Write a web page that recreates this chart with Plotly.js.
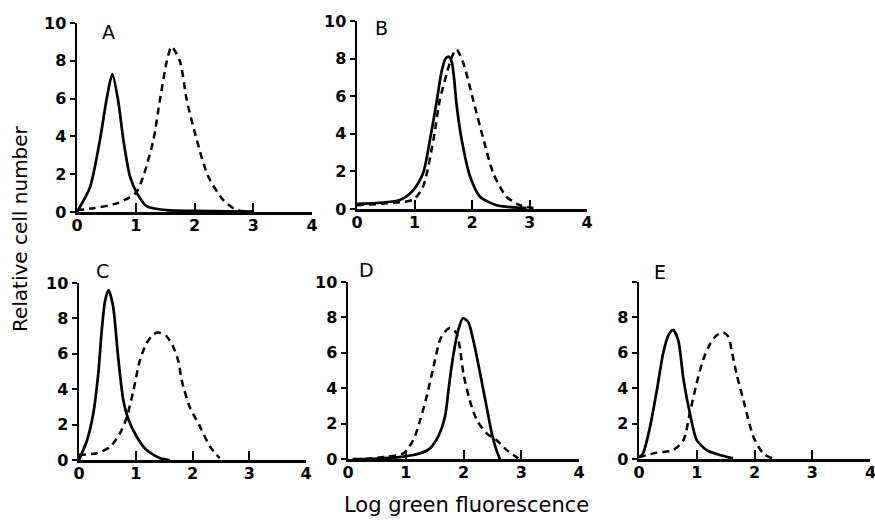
<!DOCTYPE html>
<html>
<head>
<meta charset="utf-8">
<script src="https://cdn.plot.ly/plotly-3.0.1.min.js"></script>
<style>html,body{margin:0;padding:0;background:#fff;}#chart{width:875px;height:522px;}</style>
</head>
<body>
<div id="chart"></div>
<script>
// Panel letters
const panelNames = ['A', 'B', 'C', 'D', 'E'];
const xTickVals = [0, 1, 2, 3, 4];
const xTickText = ['0', '1', '2', '3', '4'];
const xTickTextE = ['0', '1', '2', '3', ''];
const yTickVals = [0, 2, 4, 6, 8, 10];
const yTickText = ['0', '2', '4', '6', '8', '10'];
const yTickTextE = ['0', '2', '4', '6', '8', ''];

// Panel A
const aSolidX = [0, 0.22, 0.39, 0.5, 0.6, 0.7, 0.79, 0.9, 1.02, 1.19, 1.53, 2.0, 2.6, 3.0];
const aSolidY = [0, 1.3, 3.8, 5.9, 7.3, 5.9, 3.8, 1.9, 1.0, 0.3, 0.1, 0.06, 0.03, 0.02];
const aDashX = [0, 0.28, 0.68, 1.0, 1.13, 1.3, 1.41, 1.53, 1.61, 1.75, 1.87, 2.04, 2.23, 2.49, 2.72, 3.0];
const aDashY = [0.1, 0.2, 0.46, 1.0, 1.9, 3.8, 5.9, 8.0, 8.75, 8.0, 5.9, 3.8, 1.9, 0.63, 0.1, 0.02];

// Panel B
const bSolidX = [0, 0.75, 0.98, 1.15, 1.27, 1.39, 1.47, 1.54, 1.6, 1.65, 1.69, 1.73, 1.82, 1.97, 2.14, 2.43, 2.95];
const bSolidY = [0.27, 0.48, 1.0, 1.9, 3.7, 5.8, 7.3, 8.0, 8.1, 7.8, 6.9, 5.6, 3.7, 1.7, 0.65, 0.2, 0.05];
const bDashX = [0, 0.52, 0.98, 1.15, 1.33, 1.44, 1.56, 1.65, 1.73, 1.85, 2.02, 2.2, 2.37, 2.6, 2.83, 3.07];
const bDashY = [0.2, 0.3, 0.5, 1.2, 3.7, 5.8, 7.2, 8.1, 8.5, 7.75, 5.8, 3.7, 1.9, 0.65, 0.2, 0.05];

// Panel C
const cSolidX = [0, 0.14, 0.25, 0.34, 0.4, 0.46, 0.52, 0.6, 0.69, 0.78, 0.87, 1.02, 1.19, 1.43, 1.6];
const cSolidY = [0, 1.1, 2.6, 4.9, 7.3, 9.0, 9.6, 8.7, 5.8, 3.4, 2.3, 1.3, 0.56, 0.1, 0];
const cDashX = [0, 0.31, 0.55, 0.72, 0.84, 0.96, 1.07, 1.19, 1.31, 1.4, 1.54, 1.66, 1.75, 1.81, 1.95, 2.13, 2.31, 2.48];
const cDashY = [0.3, 0.38, 0.75, 1.5, 2.4, 3.95, 5.6, 6.6, 7.1, 7.2, 7.0, 6.4, 5.6, 4.5, 3.0, 1.9, 0.75, 0.1];

// Panel D
const dSolidX = [0.08, 0.38, 0.96, 1.25, 1.42, 1.56, 1.68, 1.74, 1.82, 1.91, 1.99, 2.08, 2.17, 2.29, 2.4, 2.49, 2.57, 2.63];
const dSolidY = [0, 0, 0.13, 0.32, 0.6, 1.26, 2.4, 3.9, 5.8, 7.3, 7.95, 7.75, 6.7, 4.8, 2.95, 1.45, 0.5, 0];
const dDashX = [0.3, 0.67, 0.96, 1.13, 1.25, 1.36, 1.48, 1.59, 1.68, 1.77, 1.88, 1.94, 2.0, 2.11, 2.23, 2.4, 2.57, 2.75, 2.95];
const dDashY = [0, 0.13, 0.32, 1.07, 2.2, 3.5, 5.2, 6.7, 7.2, 7.4, 7.1, 6.2, 4.8, 3.3, 2.2, 1.45, 1.07, 0.5, 0.04];

// Panel E
const eSolidX = [0, 0.07, 0.19, 0.31, 0.42, 0.51, 0.59, 0.68, 0.77, 0.88, 1.0, 1.17, 1.4, 1.63];
const eSolidY = [0.1, 0.32, 1.8, 3.9, 6.0, 7.0, 7.3, 6.7, 4.5, 2.6, 1.07, 0.5, 0.23, 0.04];
const eDashX = [0, 0.31, 0.59, 0.77, 0.88, 1.0, 1.11, 1.23, 1.35, 1.46, 1.55, 1.6, 1.69, 1.81, 1.98, 2.15, 2.3];
const eDashY = [0.1, 0.36, 0.5, 1.07, 2.6, 4.3, 5.6, 6.5, 7.0, 7.15, 6.9, 6.2, 4.8, 3.3, 1.26, 0.32, 0.04];

const panels = [
  {sx: aSolidX, sy: aSolidY, dx: aDashX, dy: aDashY, xd: [77, 312], yd: [23, 212], lab: [100, 32]},
  {sx: bSolidX, sy: bSolidY, dx: bDashX, dy: bDashY, xd: [357, 587], yd: [21, 209], lab: [373, 28]},
  {sx: cSolidX, sy: cSolidY, dx: cDashX, dy: cDashY, xd: [79, 306], yd: [283, 460], lab: [94, 271]},
  {sx: dSolidX, sy: dSolidY, dx: dDashX, dy: dDashY, xd: [348, 579], yd: [282, 459], lab: [357, 270]},
  {sx: eSolidX, sy: eSolidY, dx: eDashX, dy: eDashY, xd: [639, 870], yd: [282, 459], lab: [652, 272]}
];

const W = 875, H = 522;
const FONT = 'DejaVu Sans, sans-serif';
const traces = [];
const layout = {
  width: W, height: H,
  margin: {l: 0, r: 0, t: 0, b: 0},
  paper_bgcolor: '#fff', plot_bgcolor: '#fff',
  showlegend: false,
  font: {family: FONT, color: '#000'},
  annotations: []
};

panels.forEach((p, i) => {
  const n = i === 0 ? '' : String(i + 1);
  const xa = 'x' + n, ya = 'y' + n;
  traces.push({x: p.sx, y: p.sy, xaxis: xa, yaxis: ya, mode: 'lines', type: 'scatter',
    line: {color: '#000', width: 2.7, shape: 'spline', smoothing: 0.7}, hoverinfo: 'skip'});
  traces.push({x: p.dx, y: p.dy, xaxis: xa, yaxis: ya, mode: 'lines', type: 'scatter',
    line: {color: '#000', width: 2.5, shape: 'spline', smoothing: 0.7, dash: '7px,5px'}, hoverinfo: 'skip'});
  layout['xaxis' + n] = {
    domain: [p.xd[0] / W, p.xd[1] / W], anchor: ya, range: [0, 4],
    tickvals: xTickVals, ticktext: i === 4 ? xTickTextE : xTickText,
    ticks: 'inside', ticklen: 9, tickwidth: 2, tickcolor: '#000', ticklabelstandoff: -3,
    showline: true, linewidth: 2.5, linecolor: '#000', showgrid: false, zeroline: false,
    tickfont: {family: FONT, size: 16, color: '#000', weight: 'bold'}
  };
  layout['yaxis' + n] = {
    domain: [1 - p.yd[1] / H, 1 - p.yd[0] / H], anchor: xa, range: [0, 10],
    tickvals: yTickVals, ticktext: i === 4 ? yTickTextE : yTickText,
    ticks: 'outside', ticklen: 5, tickwidth: 2, tickcolor: '#000',
    showline: true, linewidth: 2.5, linecolor: '#000', showgrid: false, zeroline: false,
    tickfont: {family: FONT, size: 16, color: '#000', weight: 'bold'}
  };
  layout.annotations.push({text: panelNames[i], xref: 'paper', yref: 'paper', x: p.lab[0] / W, y: 1 - p.lab[1] / H,
    showarrow: false, xanchor: 'left', yanchor: 'middle',
    font: {family: FONT, size: 19, color: '#000'}});
});

// last x tick label of panel E sits at the page edge
layout.annotations.push({text: '<b>4</b>', xref: 'x5', yref: 'y5', x: 4, y: 0, showarrow: false,
  xanchor: 'center', yanchor: 'top', yshift: -2, font: {family: FONT, size: 16, color: '#000'}});

layout.annotations.push({text: 'Relative cell number', xref: 'paper', yref: 'paper', x: 20 / W, y: 1 - 229 / H,
  textangle: -90, showarrow: false, xanchor: 'center', yanchor: 'middle',
  font: {family: FONT, size: 20, color: '#000'}});
layout.annotations.push({text: 'Log green fluorescence', xref: 'paper', yref: 'paper', x: 466 / W, y: 1 - 505 / H,
  showarrow: false, xanchor: 'center', yanchor: 'middle',
  font: {family: FONT, size: 21, color: '#000'}});

Plotly.newPlot('chart', traces, layout, {staticPlot: true, displayModeBar: false});
</script>
</body>
</html>
